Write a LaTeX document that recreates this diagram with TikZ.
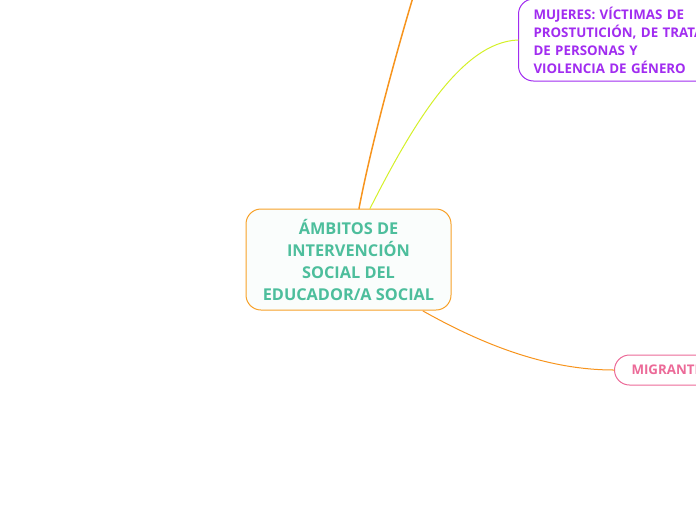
\documentclass[tikz,border=0pt]{standalone}
\usepackage{fontspec}
\setmainfont{Open Sans}
\definecolor{mainorange}{HTML}{F7A128}
\definecolor{lineorange}{HTML}{F7941D}
\definecolor{lineyellow}{HTML}{D4F029}
\definecolor{mainteal}{HTML}{4DBE9C}
\definecolor{mainpurple}{HTML}{A12CF0}
\definecolor{mainpink}{HTML}{EC6A98}
\begin{document}
\begin{tikzpicture}[x=1pt, y=-1pt, line cap=round,
main node/.style={rectangle, rounded corners=15pt, draw=mainorange, fill=mainteal!3, line width=1pt, minimum width=205pt, minimum height=101pt, inner sep=0pt, align=center, text=mainteal, font=\fontsize{16.3}{22}\selectfont\bfseries},
sub node/.style={rectangle, rounded corners=15pt, line width=1pt, fill=white, inner xsep=15pt, inner ysep=0pt, align=left, anchor=west, font=\fontsize{13.3}{18}\selectfont\bfseries}]
\useasboundingbox (0,0) rectangle (696,520);
\clip (0,0) rectangle (696,520);
\begin{scope}
\node[main node] (ambitos) at (348.5,259.5) {ÁMBITOS DE\\INTERVENCIÓN\\SOCIAL DEL\\EDUCADOR/A SOCIAL};
\node[sub node, draw=mainpurple, text=mainpurple, minimum height=82pt, text width=185pt] (mujeres) at (518,40) {MUJERES: VÍCTIMAS DE\\PROSTUTICIÓN, DE TRATA\\DE PERSONAS Y\\VIOLENCIA DE GÉNERO};
\node[sub node, draw=mainpink, text=mainpink, minimum height=30pt, inner xsep=17pt] (migrant) at (614,370) {MIGRANTES};
\coordinate (arriba) at (414,-6);
\end{scope}
\begin{scope}
\draw[lineorange, line width=1.5pt] (ambitos.north) ++(10.5,0) .. controls (372,140) and (400,40) .. (arriba);
\draw[lineyellow, line width=1pt] (ambitos.north) ++(21.5,0) .. controls (410,130) and (460,42) .. (mujeres.west);
\draw[lineorange, line width=1pt] (ambitos.south) ++(74.5,0.5) .. controls (480,343) and (545,370) .. (migrant.west);
\end{scope}
\end{tikzpicture}
\end{document}
